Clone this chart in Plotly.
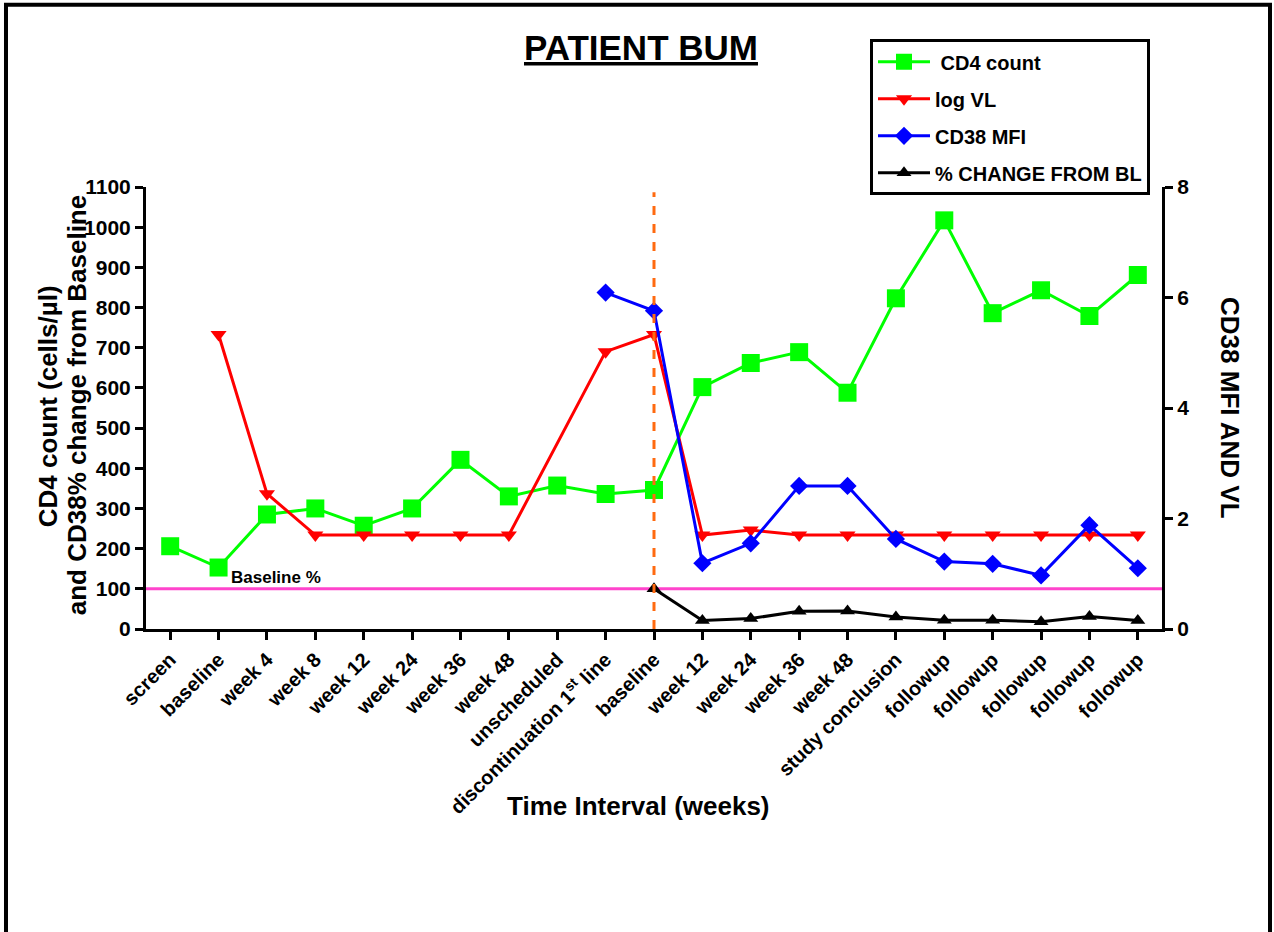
import plotly.graph_objects as go

categories = ["screen", "baseline", "week 4", "week 8", "week 12", "week 24", "week 36",
              "week 48", "unscheduled", "discontinuation 1<sup>st</sup> line", "baseline",
              "week 12", "week 24", "week 36", "week 48", "study conclusion",
              "followup", "followup", "followup", "followup", "followup"]

cd4_count = [206, 153, 285, 300, 257, 300, 421, 330, 357, 336, 346,
             602, 662, 689, 588, 823, 1017, 786, 843, 779, 881]

log_vl = [None, 5.33, 2.45, 1.7, 1.7, 1.7, 1.7, 1.7, None, 5.02, 5.33,
          1.7, 1.79, 1.7, 1.7, 1.7, 1.7, 1.7, 1.7, 1.7, 1.7]

cd38_mfi = [None] * 9 + [6.09, 5.76, 1.19, 1.55, 2.59, 2.59, 1.63, 1.22, 1.18, 0.97, 1.88, 1.10]

pct_change = [None] * 10 + [100, 21, 26, 44, 45, 30, 22, 22, 18, 31, 21]

baseline_pct = 100
divider_index = 10

x = list(range(len(categories)))
FONT = "Arial, 'Liberation Sans', sans-serif"

fig = go.Figure()
fig.add_trace(go.Scatter(x=x, y=cd4_count, name=" CD4 count", mode="lines+markers",
                         line=dict(color="#00FF00", width=3),
                         marker=dict(symbol="square", size=18, color="#00FF00"),
                         legendgroup="a", cliponaxis=False))
fig.add_trace(go.Scatter(x=x, y=log_vl, name="log VL", mode="lines+markers", yaxis="y2",
                         connectgaps=True,
                         line=dict(color="#FF0000", width=3),
                         marker=dict(symbol="triangle-down", size=14, color="#FF0000"),
                         legendgroup="b", cliponaxis=False))
fig.add_trace(go.Scatter(x=x, y=cd38_mfi, name="CD38 MFI", mode="lines+markers", yaxis="y2",
                         line=dict(color="#0000FF", width=3),
                         marker=dict(symbol="diamond", size=14, color="#0000FF"),
                         legendgroup="c", cliponaxis=False))
fig.add_trace(go.Scatter(x=x, y=pct_change, name="% CHANGE FROM BL", mode="lines+markers",
                         line=dict(color="#000000", width=3),
                         marker=dict(symbol="triangle-up", size=13, color="#000000"),
                         legendgroup="d", cliponaxis=False))

# baseline % reference line
fig.add_shape(type="line", xref="paper", yref="y", x0=0, x1=1, y0=baseline_pct, y1=baseline_pct,
              line=dict(color="#FF44CC", width=3), layer="below")
# switch divider
fig.add_shape(type="line", xref="x", yref="y", x0=divider_index, x1=divider_index, y0=0, y1=1087,
              line=dict(color="#FF6A10", width=3, dash="dash"), layer="above")
# outer frame
fig.add_shape(type="rect", xref="paper", yref="paper", x0=-0.1378, x1=1.1063, y0=-0.75, y1=1.4125,
              line=dict(color="black", width=4), fillcolor="rgba(0,0,0,0)", layer="above")

ann = []
ann.append(dict(text="<b><u>PATIENT BUM</u></b>", xref="paper", yref="paper", x=0.4873, y=1.3145,
                xanchor="center", yanchor="middle", showarrow=False,
                font=dict(family=FONT, size=35, color="black")))
ann.append(dict(text="<b>CD4 count (cells/µl)</b>",
                xref="paper", yref="paper", x=-0.0965, y=0.504, textangle=-90,
                xanchor="center", yanchor="middle", showarrow=False,
                font=dict(family=FONT, size=26, color="black")))
ann.append(dict(text="<b>and CD38% change from Baseline</b>",
                xref="paper", yref="paper", x=-0.0680, y=0.506, textangle=-90,
                xanchor="center", yanchor="middle", showarrow=False,
                font=dict(family=FONT, size=26, color="black")))
ann.append(dict(text="<b>CD38 MFI AND VL</b>", xref="paper", yref="paper", x=1.0669, y=0.5,
                textangle=90, xanchor="center", yanchor="middle", showarrow=False,
                font=dict(family=FONT, size=26, color="black")))
ann.append(dict(text="<b>Time Interval (weeks)</b>", xref="paper", yref="paper", x=0.4848, y=-0.4,
                xanchor="center", yanchor="middle", showarrow=False,
                font=dict(family=FONT, size=26, color="black")))
ann.append(dict(text="<b>Baseline %</b>", xref="x", yref="y", x=1.22, y=baseline_pct,
                xanchor="left", yanchor="bottom", showarrow=False,
                font=dict(family=FONT, size=17, color="black")))

axis_common = dict(showline=True, linecolor="black", linewidth=3, ticks="outside",
                   ticklen=8, tickwidth=3, tickcolor="black", showgrid=False, zeroline=False)

fig.update_layout(
    width=1274, height=932,
    margin=dict(l=146, r=112, t=187, b=303, pad=0),
    paper_bgcolor="white", plot_bgcolor="white",
    font=dict(family=FONT, color="black"),
    annotations=ann,
    xaxis=dict(range=[-0.5, 20.5], tickvals=x, ticktext=[f"<b>{c}</b>" for c in categories],
               tickangle=-45, tickfont=dict(family=FONT, size=20, color="black"), **axis_common),
    yaxis=dict(range=[0, 1100], dtick=100, tickfont=dict(family=FONT, size=21, color="black"),
               tickprefix="<b>", ticksuffix="</b>", **axis_common),
    yaxis2=dict(range=[0, 8], dtick=2, overlaying="y", side="right",
                tickfont=dict(family=FONT, size=21, color="black"),
                tickprefix="<b>", ticksuffix="</b>", **axis_common),
    legend=dict(x=0.7126, y=1.334, xanchor="left", yanchor="top",
                bgcolor="white", bordercolor="black", borderwidth=3,
                font=dict(family=FONT, size=20, color="black", weight="bold"),
                traceorder="grouped", tracegroupgap=8, itemwidth=52),
    showlegend=True,
)

fig.write_html("out.html", config={"displayModeBar": False},
               post_script="document.body.style.margin='0';")
